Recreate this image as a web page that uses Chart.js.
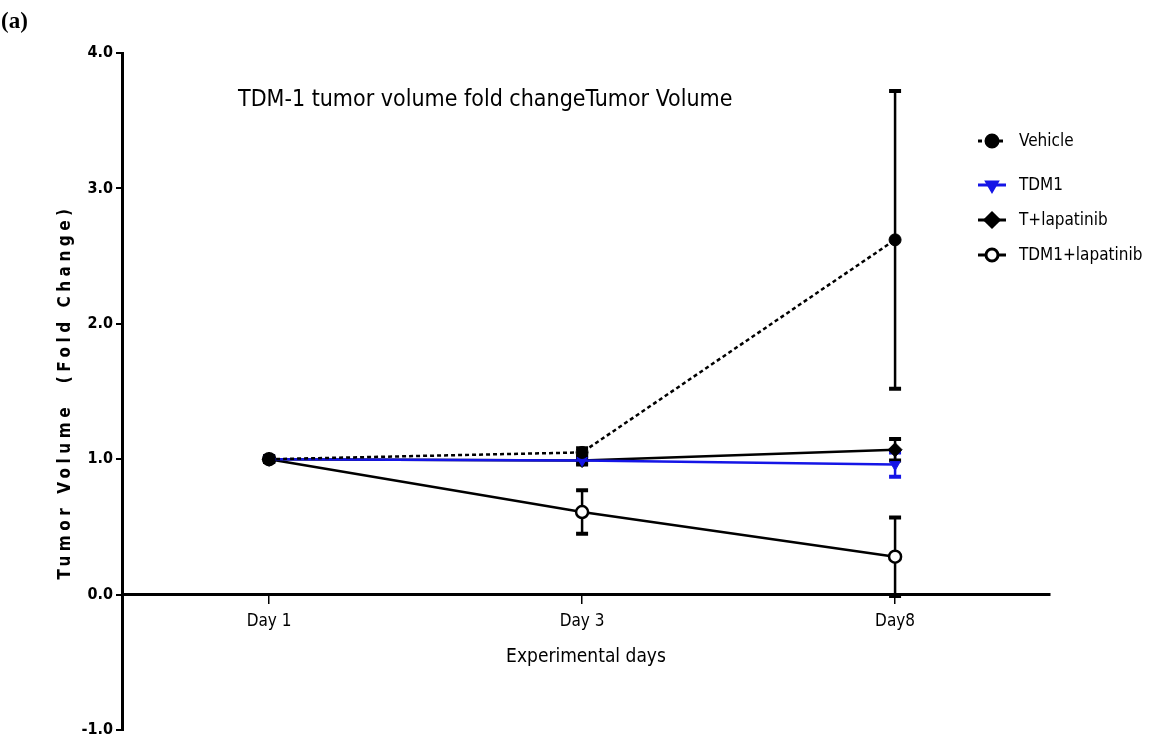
<!DOCTYPE html>
<html>
<head>
<meta charset="utf-8">
<script src="https://cdn.jsdelivr.net/npm/chart.js@4.4.1/dist/chart.umd.min.js"></script>
<style>
  html, body { margin: 0; padding: 0; background: #fff; }
  #wrap { width: 1149px; height: 744px; position: relative; }
</style>
</head>
<body>
<div id="wrap"><canvas id="tumorChart"></canvas></div>
<script>
const dayLabels = ['Day 1', 'Day 3', 'Day8'];
const seriesNames = ['Vehicle', 'TDM1', 'T+lapatinib', 'TDM1+lapatinib'];

const vehicle = [1.0, 1.05, 2.62];
const vehicleErr = [0.02, 0.03, 1.10];
const tdm1 = [1.0, 0.99, 0.96];
const tdm1Err = [0.02, 0.02, 0.09];
const tLap = [1.0, 0.99, 1.07];
const tLapErr = [0.02, 0.03, 0.08];
const tdmLap = [1.0, 0.61, 0.28];
const tdmLapErr = [0.02, 0.16, 0.29];

const yTicks = [-1, 0, 1, 2, 3, 4];

const NARROW = '"Liberation Sans Narrow", "DejaVu Sans Condensed", "Liberation Sans", sans-serif';

const toPoints = vals => vals.map((v, i) => ({ x: i, y: v }));

const errBars = {
  id: 'errBars',
  beforeDatasetsDraw(chart) {
    const ctx = chart.ctx;
    const ys = chart.scales.y;
    chart.data.datasets.forEach((ds, di) => {
      const meta = chart.getDatasetMeta(di);
      ctx.save();
      ctx.strokeStyle = ds.errColor;
      meta.data.forEach((pt, i) => {
        const v = ds.data[i].y, e = ds.err[i];
        const top = ys.getPixelForValue(v + e);
        const bot = ys.getPixelForValue(v - e);
        ctx.lineWidth = 2.5;
        ctx.beginPath();
        ctx.moveTo(pt.x, top); ctx.lineTo(pt.x, bot);
        ctx.stroke();
        ctx.lineWidth = 4;
        ctx.beginPath();
        ctx.moveTo(pt.x - 6, top); ctx.lineTo(pt.x + 6, top);
        ctx.moveTo(pt.x - 6, bot); ctx.lineTo(pt.x + 6, bot);
        ctx.stroke();
      });
      ctx.restore();
    });
  }
};

const extras = {
  id: 'extras',
  afterDraw(chart) {
    const ctx = chart.ctx;
    ctx.save();
    // panel letter
    ctx.fillStyle = '#000';
    ctx.font = 'bold 23px "Liberation Serif", serif';
    ctx.textBaseline = 'middle';
    ctx.textAlign = 'left';
    ctx.fillText('(a)', 1, 22);
    // title inside plot
    ctx.font = '23px ' + NARROW;
    ctx.fillText('TDM-1 tumor volume fold changeTumor Volume', 238, 100);
    // y axis title
    ctx.save();
    ctx.translate(66, 392);
    ctx.rotate(-Math.PI / 2);
    ctx.textAlign = 'center';
    ctx.font = 'bold 17px ' + NARROW;
    ctx.letterSpacing = '4.5px';
    ctx.fillText('Tumor Volume  (Fold Change)', 0, 0);
    ctx.restore();
    // legend
    const legY = [141, 185, 220, 255];
    chart.data.datasets.forEach((ds, i) => {
      const y = legY[i];
      ctx.save();
      ctx.strokeStyle = ds.borderColor;
      ctx.lineWidth = 3;
      ctx.setLineDash(ds.borderDash || []);
      ctx.beginPath();
      ctx.moveTo(978, y); ctx.lineTo(1006, y);
      ctx.stroke();
      ctx.setLineDash([]);
      ctx.fillStyle = ds.pointBackgroundColor;
      ctx.strokeStyle = ds.pointBorderColor;
      Chart.helpers.drawPoint(ctx, {
        pointStyle: ds.pointStyle, radius: ds.pointRadius,
        rotation: ds.pointRotation || 0, borderWidth: ds.pointBorderWidth
      }, 992, y);
      ctx.restore();
      ctx.fillStyle = '#000';
      ctx.font = '17px ' + NARROW;
      ctx.textAlign = 'left';
      ctx.fillText(seriesNames[i], 1019, y + 1);
    });
    ctx.restore();
  }
};

new Chart(document.getElementById('tumorChart'), {
  type: 'line',
  data: {
    datasets: [
      { label: seriesNames[0], data: toPoints(vehicle), err: vehicleErr, errColor: '#000',
        borderColor: '#000', borderWidth: 2.5, borderDash: [4, 3],
        pointStyle: 'circle', pointRadius: 6, pointBackgroundColor: '#000',
        pointBorderColor: '#000', pointBorderWidth: 1 },
      { label: seriesNames[1], data: toPoints(tdm1), err: tdm1Err, errColor: '#1515e6',
        borderColor: '#1515e6', borderWidth: 2.5,
        pointStyle: 'triangle', pointRotation: 180, pointRadius: 6, pointBackgroundColor: '#1515e6',
        pointBorderColor: '#1515e6', pointBorderWidth: 1 },
      { label: seriesNames[2], data: toPoints(tLap), err: tLapErr, errColor: '#000',
        borderColor: '#000', borderWidth: 2.5,
        pointStyle: 'rectRot', pointRadius: 7, pointBackgroundColor: '#000',
        pointBorderColor: '#000', pointBorderWidth: 1 },
      { label: seriesNames[3], data: toPoints(tdmLap), err: tdmLapErr, errColor: '#000',
        borderColor: '#000', borderWidth: 2.5,
        pointStyle: 'circle', pointRadius: 6, pointBackgroundColor: '#fff',
        pointBorderColor: '#000', pointBorderWidth: 2.5 }
    ]
  },
  options: {
    responsive: true,
    maintainAspectRatio: false,
    animation: false,
    layout: { padding: { left: 0, top: 53, right: 99, bottom: 14 } },
    plugins: { legend: { display: false }, tooltip: { enabled: false } },
    scales: {
      x: {
        type: 'linear',
        position: { y: 0 },
        min: -0.47, max: 2.495,
        afterBuildTicks: s => { s.ticks = dayLabels.map((_, i) => ({ value: i })); },
        ticks: {
          callback: v => dayLabels[v],
          color: '#000', padding: 9, maxRotation: 0,
          font: { family: NARROW, size: 17 }
        },
        grid: { drawOnChartArea: false, tickLength: 8, color: '#000', lineWidth: 1.5 },
        border: { color: '#000', width: 3 },
        title: {
          display: true, text: 'Experimental days', color: '#000',
          font: { family: NARROW, size: 19 }, padding: { top: 5 }
        }
      },
      y: {
        min: -1, max: 4,
        afterBuildTicks: s => { s.ticks = yTicks.map(v => ({ value: v })); },
        afterFit: s => { s.width = 122; },
        ticks: {
          callback: v => v.toFixed(1),
          color: '#000', padding: 3,
          font: { family: NARROW, size: 16, weight: 'bold' }
        },
        grid: { drawOnChartArea: false, tickLength: 6, color: '#000', lineWidth: 2 },
        border: { color: '#000', width: 3 }
      }
    }
  },
  plugins: [errBars, extras]
});
</script>
</body>
</html>
